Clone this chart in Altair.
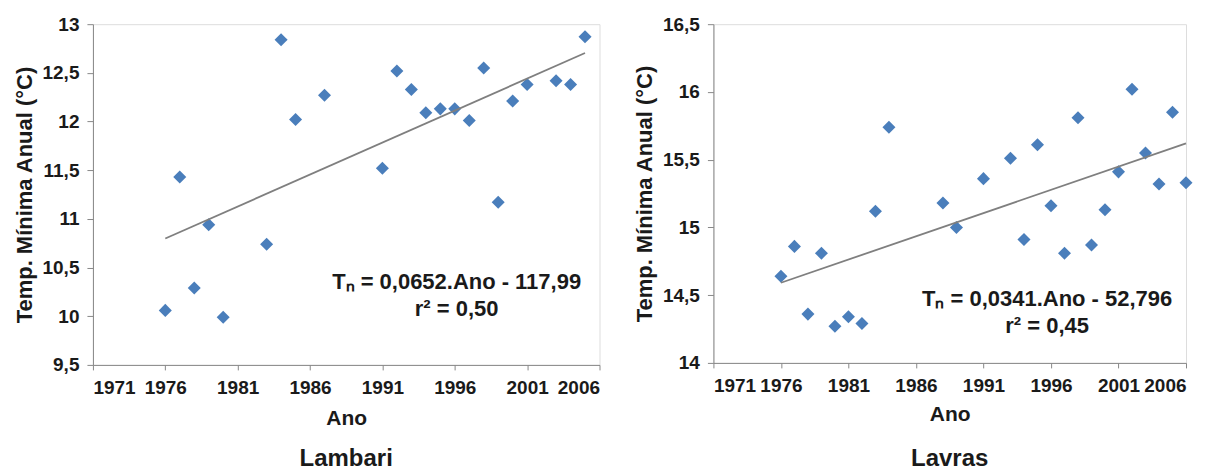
import altair as alt
import pandas as pd

# ---- data ----
lambari_anos = [1976, 1977, 1978, 1979, 1980, 1983, 1984, 1985, 1987, 1991, 1992, 1993,
                1994, 1995, 1996, 1997, 1998, 1999, 2000, 2001, 2003, 2004, 2005]
lambari_tn = [10.06, 11.43, 10.29, 10.94, 9.99, 10.74, 12.84, 12.02, 12.27, 11.52, 12.52, 12.33,
              12.09, 12.13, 12.13, 12.01, 12.55, 11.17, 12.21, 12.38, 12.42, 12.38, 12.87]

lavras_anos = [1976, 1977, 1978, 1979, 1980, 1981, 1982, 1983, 1984, 1988, 1989, 1991, 1993,
               1994, 1995, 1996, 1997, 1998, 1999, 2000, 2001, 2002, 2003, 2004, 2005, 2006]
lavras_tn = [14.64, 14.86, 14.36, 14.81, 14.27, 14.34, 14.29, 15.12, 15.74, 15.18, 15.00, 15.36, 15.51,
             14.91, 15.61, 15.16, 14.81, 15.81, 14.87, 15.13, 15.41, 16.02, 15.55, 15.32, 15.85, 15.33]

x_ticks = [1971, 1976, 1981, 1986, 1991, 1996, 2001, 2006]
lambari_yticks = [9.5, 10, 10.5, 11, 11.5, 12, 12.5, 13]
lavras_yticks = [14, 14.5, 15, 15.5, 16, 16.5]

lambari_eq = ["Tₙ = 0,0652.Ano  - 117,99", "r² = 0,50"]
lavras_eq = ["Tₙ = 0,0341.Ano  - 52,796", "r² = 0,45"]

FONT = "Liberation Sans"
TXT = "#1a1a1a"
AXC = "#a6a6a6"
BLUE = "#4a7ebb"


def panel(anos, tn, yticks, eq, title, w, h, eqx, eqy, x_title_pad, title_off):
    df = pd.DataFrame({"Ano": anos, "Tn": tn})
    base = alt.Chart(df)
    x = alt.X("Ano:Q",
              scale=alt.Scale(domain=[x_ticks[0], x_ticks[-1]], nice=False, zero=False),
              axis=alt.Axis(values=x_ticks, format="d", title="Ano", grid=False,
                            tickSize=5, labelPadding=9, titlePadding=x_title_pad,
                            labelFont=FONT, titleFont=FONT,
                            labelFontWeight="bold", titleFontWeight="bold",
                            labelColor=TXT, titleColor=TXT,
                            labelFontSize=19, titleFontSize=21))
    y = alt.Y("Tn:Q",
              scale=alt.Scale(domain=[yticks[0], yticks[-1]], nice=False, zero=False),
              axis=alt.Axis(values=yticks, grid=False, tickSize=6, labelPadding=8,
                            titlePadding=6,
                            labelFont=FONT, titleFont=FONT,
                            labelFontWeight="bold", titleFontWeight="bold",
                            labelColor=TXT, titleColor=TXT,
                            labelExpr="replace(format(datum.value, '~g'), '.', ',')",
                            title="Temp. Mínima Anual (°C)",
                            labelFontSize=19, titleFontSize=22))
    pts = base.mark_point(shape="diamond", filled=True, size=170, color=BLUE,
                          opacity=1).encode(x=x, y=y)
    line = base.transform_regression("Ano", "Tn").mark_line(
        color="#7f7f7f", strokeWidth=1.8).encode(x="Ano:Q", y="Tn:Q")
    tdf = pd.DataFrame({"t": eq, "k": [0, 1]})
    t1 = alt.Chart(tdf).transform_filter("datum.k == 0").mark_text(
        font=FONT, fontWeight="bold", fontSize=22, color=TXT, align="center",
        baseline="middle").encode(x=alt.value(eqx), y=alt.value(eqy), text="t:N")
    t2 = alt.Chart(tdf).transform_filter("datum.k == 1").mark_text(
        font=FONT, fontWeight="bold", fontSize=22, color=TXT, align="center",
        baseline="middle").encode(x=alt.value(eqx), y=alt.value(eqy + 27), text="t:N")
    return alt.layer(pts, line, t1, t2).properties(
        width=w, height=h,
        title=alt.TitleParams(title, orient="bottom", anchor="middle", fontSize=24,
                              font=FONT, fontWeight="bold", color=TXT, offset=title_off))


left = panel(lambari_anos, lambari_tn, lambari_yticks, lambari_eq, "Lambari",
             507, 341, 364, 258, 10, 18)
right = panel(lavras_anos, lavras_tn, lavras_yticks, lavras_eq, "Lavras",
              473, 339, 334, 275, 8, 22)

chart = alt.hconcat(left, right, spacing=32).properties(
    padding={"left": 4, "top": 6, "right": 5, "bottom": 2}
).configure_axis(
    domainColor=AXC, tickColor=AXC, domainWidth=1.5, tickWidth=1.5
).configure_view(stroke=None).configure(background="white")

chart.save("out.html", embed_options={"renderer": "svg", "actions": False})
